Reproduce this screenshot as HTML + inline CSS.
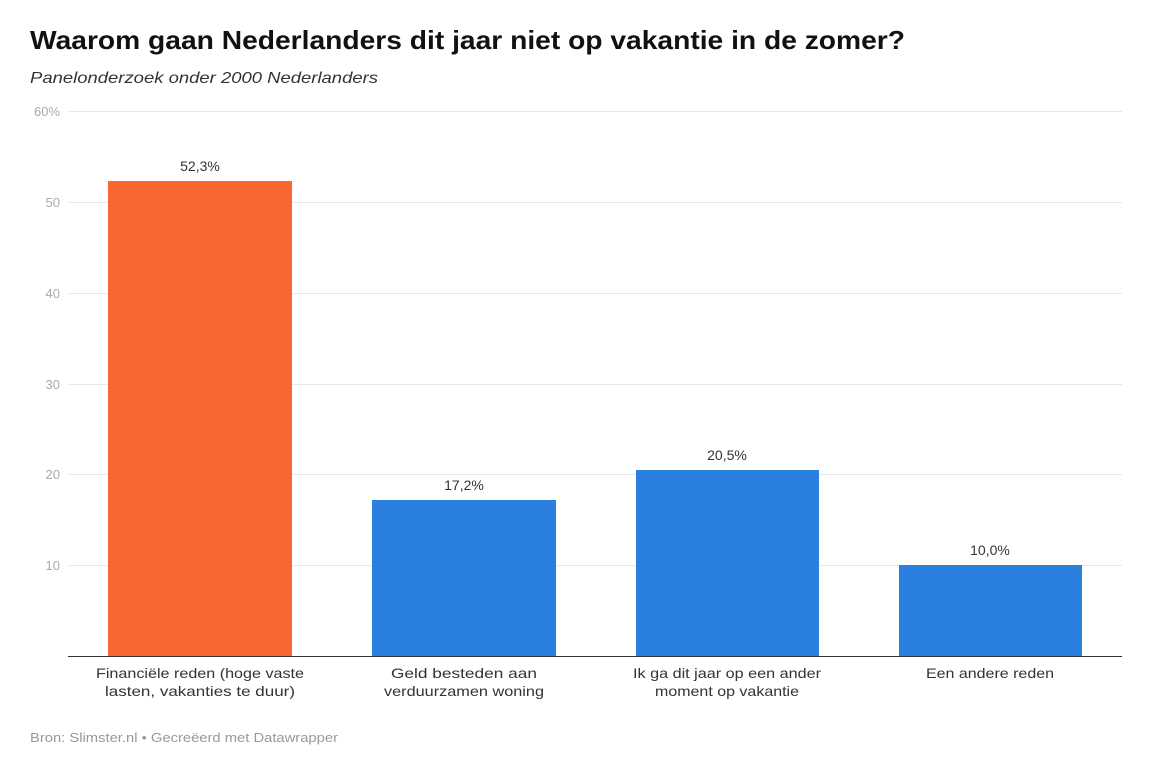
<!DOCTYPE html>
<html><head><style>
body{margin:0;background:#fff;width:1164px;height:760px;overflow:hidden;font-family:"Liberation Sans",sans-serif;}
</style></head><body>
<svg width="1164" height="760" xmlns="http://www.w3.org/2000/svg" font-family="Liberation Sans, sans-serif">
<text x="30" y="49" font-size="26" font-weight="bold" fill="#111" textLength="875" lengthAdjust="spacingAndGlyphs">Waarom gaan Nederlanders dit jaar niet op vakantie in de zomer?</text>
<text x="30" y="83" font-size="16" font-style="italic" fill="#333" textLength="348" lengthAdjust="spacingAndGlyphs">Panelonderzoek onder 2000 Nederlanders</text>
<g stroke="#e8e8e8" stroke-width="1">
<line x1="68" x2="1122" y1="111.5" y2="111.5"/>
<line x1="68" x2="1122" y1="202.5" y2="202.5"/>
<line x1="68" x2="1122" y1="293.5" y2="293.5"/>
<line x1="68" x2="1122" y1="384.5" y2="384.5"/>
<line x1="68" x2="1122" y1="474.5" y2="474.5"/>
<line x1="68" x2="1122" y1="565.5" y2="565.5"/>
</g>
<g font-size="13" fill="#aaa" text-anchor="end">
<text x="60" y="116">60%</text>
<text x="60" y="207">50</text>
<text x="60" y="298">40</text>
<text x="60" y="389">30</text>
<text x="60" y="479">20</text>
<text x="60" y="570">10</text>
</g>
<rect x="108" y="181" width="184" height="475" fill="#f96731"/>
<rect x="372" y="500" width="184" height="156" fill="#2b7fdf"/>
<rect x="636" y="470" width="183" height="186" fill="#2b7fdf"/>
<rect x="899" y="565" width="183" height="91" fill="#2b7fdf"/>
<line x1="68" x2="1122" y1="656.5" y2="656.5" stroke="#333" stroke-width="1"/>
<g font-size="14" fill="#333" text-anchor="middle">
<text x="200" y="171">52,3%</text>
<text x="464" y="490">17,2%</text>
<text x="727" y="460">20,5%</text>
<text x="990" y="555">10,0%</text>
<text x="200" y="678" textLength="208" lengthAdjust="spacingAndGlyphs">Financiële reden (hoge vaste</text>
<text x="200" y="696" textLength="190" lengthAdjust="spacingAndGlyphs">lasten, vakanties te duur)</text>
<text x="464" y="678" textLength="146" lengthAdjust="spacingAndGlyphs">Geld besteden aan</text>
<text x="464" y="696" textLength="160" lengthAdjust="spacingAndGlyphs">verduurzamen woning</text>
<text x="727" y="678" textLength="188" lengthAdjust="spacingAndGlyphs">Ik ga dit jaar op een ander</text>
<text x="727" y="696" textLength="144" lengthAdjust="spacingAndGlyphs">moment op vakantie</text>
<text x="990" y="678" textLength="128" lengthAdjust="spacingAndGlyphs">Een andere reden</text>
</g>
<text x="30" y="742" font-size="13" fill="#999" textLength="308" lengthAdjust="spacingAndGlyphs">Bron: Slimster.nl • Gecreëerd met Datawrapper</text>
</svg>
</body></html>
